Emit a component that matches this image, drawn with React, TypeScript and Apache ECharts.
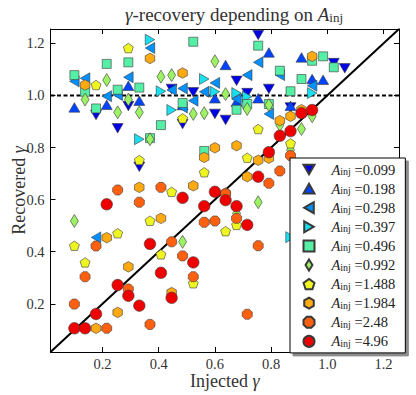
import React, { useEffect, useRef } from 'react';
import * as echarts from 'echarts';

const FONT = 'Liberation Serif';
const AXIS_MIN = 0.015;
const AXIS_MAX = 1.255;
const tickValues = [0.2, 0.4, 0.6, 0.8, 1.0, 1.2];
const ampLabels = ['0.099', '0.198', '0.298', '0.397', '0.496', '0.992', '1.488', '1.984', '2.48', '4.96'];

const s0099 = [[0.177,0.925],[0.254,0.874],[0.292,0.959],[0.331,0.726],[0.446,1.025],[0.485,0.890],[0.523,1.012],[0.600,0.929],[0.638,0.906],[0.677,1.056],[0.715,1.009],[0.754,1.232],[0.792,1.025],[0.869,0.954],[1.023,1.124],[1.062,1.104]];
const s0198 = [[0.100,0.954],[0.215,0.964],[0.292,1.037],[0.331,0.980],[0.485,0.963],[0.600,0.989],[0.638,1.117],[0.677,0.976],[0.754,0.989],[0.792,1.165],[0.869,0.960],[0.908,1.146],[0.946,1.063],[0.985,1.060]];
const s0298 = [[0.100,1.054],[0.138,1.066],[0.177,0.455],[0.215,0.997],[0.254,1.002],[0.292,1.070],[0.369,1.182],[0.446,1.021],[0.485,1.027],[0.485,0.954],[0.523,0.980],[0.562,1.014],[0.600,1.048],[0.677,0.986],[0.715,1.078],[0.754,1.127],[0.792,0.929],[0.831,1.078],[0.946,1.037]];
const s0397 = [[0.331,0.832],[0.369,1.214],[0.408,1.016],[0.446,0.944],[0.562,1.063],[0.600,1.014],[0.677,1.009],[0.715,0.995],[0.869,0.456],[0.946,1.009]];
const s0496 = [[0.100,1.078],[0.138,1.014],[0.177,0.950],[0.215,1.121],[0.254,1.022],[0.292,1.127],[0.331,1.030],[0.369,0.836],[0.408,0.886],[0.485,0.971],[0.523,1.206],[0.562,0.787],[0.677,0.945],[0.715,0.967],[0.754,1.191],[0.792,0.967],[0.831,1.095],[0.869,1.016],[0.908,1.063],[0.946,1.133],[0.985,1.150],[1.023,1.108]];
const s0992 = [[0.100,0.518],[0.138,0.984],[0.215,1.059],[0.254,0.935],[0.292,0.984],[0.331,0.935],[0.369,0.832],[0.408,1.072],[0.446,1.078],[0.485,0.438],[0.523,0.929],[0.562,0.932],[0.600,1.131],[0.638,1.005],[0.677,0.547],[0.715,0.948],[0.754,0.590],[0.792,0.963],[0.831,0.886],[0.869,0.790],[0.908,0.871],[0.946,0.920]];
const s1488 = [[0.100,0.423],[0.138,0.359],[0.177,1.040],[0.254,0.471],[0.292,1.182],[0.331,0.752],[0.369,0.519],[0.408,0.390],[0.446,0.630],[0.485,0.912],[0.523,0.279],[0.562,0.705],[0.638,0.479],[0.677,0.503],[0.715,0.761],[0.754,0.871],[0.869,0.816]];
const s1984 = [[0.138,1.040],[0.177,0.106],[0.215,0.454],[0.254,0.167],[0.292,0.342],[0.331,0.647],[0.369,1.142],[0.408,0.528],[0.446,0.243],[0.485,1.086],[0.523,0.653],[0.562,0.762],[0.600,0.799],[0.638,0.625],[0.677,0.807],[0.715,0.688],[0.754,0.751],[0.792,0.759],[0.831,0.903],[0.869,0.920],[0.908,0.945],[0.946,1.150]];
const s248 = [[0.100,0.199],[0.138,0.304],[0.177,0.422],[0.215,0.106],[0.254,0.637],[0.292,0.257],[0.331,0.590],[0.369,0.121],[0.408,0.647],[0.446,0.438],[0.485,0.384],[0.523,0.304],[0.562,0.513],[0.600,0.518],[0.638,0.622],[0.677,0.528],[0.715,0.160],[0.754,0.423],[0.792,0.663],[0.831,0.710],[0.869,0.769]];
const s496 = [[0.100,0.106],[0.138,0.106],[0.177,0.161],[0.215,0.582],[0.254,0.272],[0.292,0.231],[0.331,0.193],[0.369,0.430],[0.408,0.319],[0.446,0.223],[0.485,0.607],[0.523,0.359],[0.562,0.575],[0.600,0.630],[0.638,0.598],[0.677,0.575],[0.715,0.503],[0.754,0.688],[0.792,0.782],[0.831,0.845],[0.869,0.863],[0.908,0.932],[0.946,0.944]];

const seriesData = [s0099, s0198, s0298, s0397, s0496, s0992, s1488, s1984, s248, s496];
const colors = ['#0000e6', '#0044ff', '#0090ff', '#18e0f0', '#55f0a5', '#9cf262', '#eef520', '#ffaa10', '#ff6010', '#ee0000'];

const TRI_DOWN = 'path://M0,0L100,0L50,87Z';
const TRI_UP = 'path://M50,0L100,87L0,87Z';
const TRI_LEFT = 'path://M0,50L87,0L87,100Z';
const TRI_RIGHT = 'path://M0,0L87,50L0,100Z';
const SQUARE = 'path://M0,0L100,0L100,100L0,100Z';
const DIAMOND = 'path://M50,0L100,80L50,160L0,80Z';
const PENTAGON = 'path://M95.1,0L190.2,69.1L153.9,180.9L36.3,180.9L0,69.1Z';
const HEXAGON = 'path://M86.6,0L173.2,50L173.2,150L86.6,200L0,150L0,50Z';
const OCTAGON = 'path://M29.3,0L70.7,0L100,29.3L100,70.7L70.7,100L29.3,100L0,70.7L0,29.3Z';

const symbols = [TRI_DOWN, TRI_UP, TRI_LEFT, TRI_RIGHT, SQUARE, DIAMOND, PENTAGON, HEXAGON, OCTAGON, 'circle'];
const sizes: any[] = [[11, 9.5], [11, 9.5], [9.5, 11], [9.5, 11], 9, [8, 13], [10, 9.5], [9.5, 10.5], 10, 11.5];

export default function App() {
  const ref = useRef<HTMLDivElement>(null);
  useEffect(() => {
    if (!ref.current) return;
    const chart = echarts.init(ref.current, undefined, { renderer: 'svg' });
    const axisCommon = {
      type: 'value',
      min: AXIS_MIN,
      max: AXIS_MAX,
      splitLine: { show: false },
      axisLine: { show: true, onZero: false, lineStyle: { color: '#000', width: 1 } },
      axisTick: { show: true, inside: true, length: 5, customValues: tickValues, lineStyle: { color: '#000', width: 1 } },
    };
    const labelStyle = {
      customValues: tickValues,
      formatter: (v: number) => v.toFixed(1),
      fontFamily: FONT,
      fontSize: 14.5,
      color: '#333',
    };
    const scatter = seriesData.map((d, i) => ({
      name: ampLabels[i],
      type: 'scatter',
      data: d,
      symbol: symbols[i],
      symbolKeepAspect: false,
      symbolSize: sizes[i],
      itemStyle: { color: colors[i], borderColor: '#3a3a3a', borderWidth: 0.6, opacity: 1 },
      z: 3,
    }));
    chart.setOption({
      animation: false,
      backgroundColor: '#fff',
      title: {
        text: '{i|γ}-recovery depending on {a|A}{s|inj}',
        left: 125,
        top: 4,
        padding: 0,
        textStyle: {
          fontFamily: FONT,
          fontSize: 19,
          fontWeight: 'normal',
          color: '#333',
          lineHeight: 20,
          rich: {
            i: { fontFamily: FONT, fontStyle: 'italic', fontSize: 19, color: '#333', lineHeight: 20 },
            a: { fontFamily: FONT, fontStyle: 'italic', fontSize: 19, color: '#333', lineHeight: 20 },
            s: { fontFamily: FONT, fontSize: 13, color: '#333', lineHeight: 8, verticalAlign: 'bottom' },
          },
        },
      },
      grid: { left: 50.5, right: 17, top: 29, bottom: 43, containLabel: false, outerBoundsMode: 'none' },
      xAxis: [
        {
          ...axisCommon,
          position: 'bottom',
          axisLabel: { ...labelStyle, margin: 4 },
          name: 'Injected {i|γ}',
          nameLocation: 'middle',
          nameGap: 19.5,
          nameMoveOverlap: false,
          nameTextStyle: {
            fontFamily: FONT, fontSize: 18, color: '#333',
            rich: { i: { fontFamily: FONT, fontStyle: 'italic', fontSize: 18, color: '#333' } },
          },
        },
        { ...axisCommon, position: 'top', axisLabel: { show: false } },
      ],
      yAxis: [
        {
          ...axisCommon,
          position: 'left',
          axisLabel: { ...labelStyle, margin: 6 },
          name: 'Recovered {i|γ}',
          nameLocation: 'middle',
          nameGap: 23,
          nameMoveOverlap: false,
          nameTextStyle: {
            fontFamily: FONT, fontSize: 18, color: '#333',
            rich: { i: { fontFamily: FONT, fontStyle: 'italic', fontSize: 18, color: '#333' } },
          },
        },
        { ...axisCommon, position: 'right', axisLabel: { show: false } },
      ],
      legend: {
        data: ampLabels.map((n, i) => ({ name: n, icon: symbols[i] })),
        orient: 'vertical',
        left: 290,
        top: 158,
        itemWidth: 11,
        itemHeight: 11,
        itemGap: 4.1,
        padding: [4, 10, 4, 12.5],
        backgroundColor: '#fff',
        borderColor: '#000',
        borderWidth: 1,
        borderRadius: 0,
        shadowColor: 'rgba(0,0,0,0.45)',
        shadowOffsetX: 3,
        shadowOffsetY: 3,
        shadowBlur: 0,
        selectedMode: false,
        symbolKeepAspect: true,
        formatter: (name: string) => `{a|A}{s|inj}{v| =${name}}`,
        textStyle: {
          fontFamily: FONT,
          fontSize: 14,
          color: '#222',
          padding: [0, 0, 0, 12],
          rich: {
            a: { fontFamily: FONT, fontStyle: 'italic', fontSize: 14.5, color: '#222', lineHeight: 14 },
            s: { fontFamily: FONT, fontSize: 10, color: '#222', lineHeight: 6, verticalAlign: 'bottom' },
            v: { fontFamily: FONT, fontSize: 14.5, color: '#222', lineHeight: 14 },
          },
        },
        z: 10,
      },
      series: [
        {
          type: 'line',
          data: [[AXIS_MIN, AXIS_MIN], [AXIS_MAX, AXIS_MAX]],
          showSymbol: false,
          symbol: 'none',
          silent: true,
          lineStyle: { color: '#000', width: 2 },
          z: 2,
        },
        {
          type: 'line',
          data: [[AXIS_MIN, 1.0], [AXIS_MAX, 1.0]],
          showSymbol: false,
          symbol: 'none',
          silent: true,
          lineStyle: { color: '#000', width: 2, type: [4, 2.5] },
          z: 2,
        },
        ...scatter,
      ],
    });
    return () => chart.dispose();
  }, []);
  return (
    <div
      ref={ref}
      style={{ position: 'absolute', left: 0, top: 0, width: 416, height: 395, background: '#fff' }}
    />
  );
}
